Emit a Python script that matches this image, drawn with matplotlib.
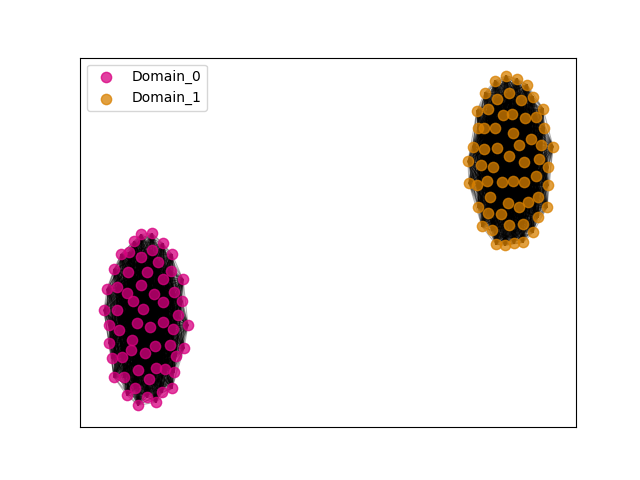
import numpy as np
import matplotlib
matplotlib.use("Agg")
import matplotlib.pyplot as plt
from matplotlib.collections import LineCollection

labels = ["Domain_0", "Domain_1"]
colors = ["#d80080", "#d88000"]

# points (x, y)
d0_x = [141, 152, 134, 163, 121, 129, 152, 172, 141, 158, 114, 128, 147, 171, 183,
        163, 141, 107, 117, 127, 154, 174, 133, 163, 182, 143, 104, 117, 178, 137,
        163, 109, 150, 188, 119, 173, 132, 109, 155, 170, 184, 131, 145, 112, 122,
        176, 138, 156, 165, 174, 114, 124, 149, 135, 172, 127, 162, 147, 138, 156]
d0_y = [235, 234, 242, 244, 255, 253, 251, 255, 258, 263, 270, 273, 273, 272, 280,
        280, 286, 290, 288, 294, 295, 293, 302, 303, 302, 310, 311, 311, 316, 324,
        323, 326, 328, 326, 331, 330, 341, 344, 347, 346, 349, 351, 354, 359, 358,
        357, 371, 369, 370, 373, 378, 378, 380, 389, 389, 396, 393, 398, 406, 403]

d1_x = [506, 495, 517, 527, 485, 509, 497, 533, 521, 477, 488, 543, 503, 512, 525,
        536, 478, 484, 495, 544, 513, 473, 484, 497, 519, 531, 541, 553, 509, 468,
        524, 539, 481, 493, 548, 469, 477, 487, 502, 513, 524, 536, 548, 490, 508,
        519, 528, 538, 478, 547, 488, 501, 538, 509, 523, 482, 492, 533, 496, 505,
        514, 523]
d1_y = [76, 81, 79, 85, 93, 93, 99, 97, 100, 111, 109, 109, 115, 114, 118,
        117, 128, 128, 128, 128, 133, 147, 149, 148, 145, 139, 145, 147, 157, 162,
        163, 160, 166, 168, 168, 184, 186, 182, 183, 182, 183, 177, 186, 198, 204,
        208, 203, 198, 208, 208, 214, 215, 218, 226, 225, 227, 231, 233, 245, 246,
        244, 243]

fig, ax = plt.subplots(figsize=(6.4, 4.8), dpi=100)

for xs, ys, c, lab in [(d0_x, d0_y, colors[0], labels[0]), (d1_x, d1_y, colors[1], labels[1])]:
    pts = np.column_stack([np.array(xs, float), 480 - np.array(ys, float)])
    segs = []
    n = len(pts)
    for i in range(n):
        for j in range(i + 1, n):
            segs.append([pts[i], pts[j]])
    lc = LineCollection(segs, colors="black", linewidths=0.8, alpha=0.3, zorder=1)
    ax.add_collection(lc)
    ax.scatter(pts[:, 0], pts[:, 1], s=55, color=c, alpha=0.75, label=lab, zorder=2)

ax.set_xlim(80, 576)
ax.set_ylim(52, 422)
ax.set_xticks([])
ax.set_yticks([])
ax.legend(loc="upper left")
fig.savefig("out.png", dpi=100)
